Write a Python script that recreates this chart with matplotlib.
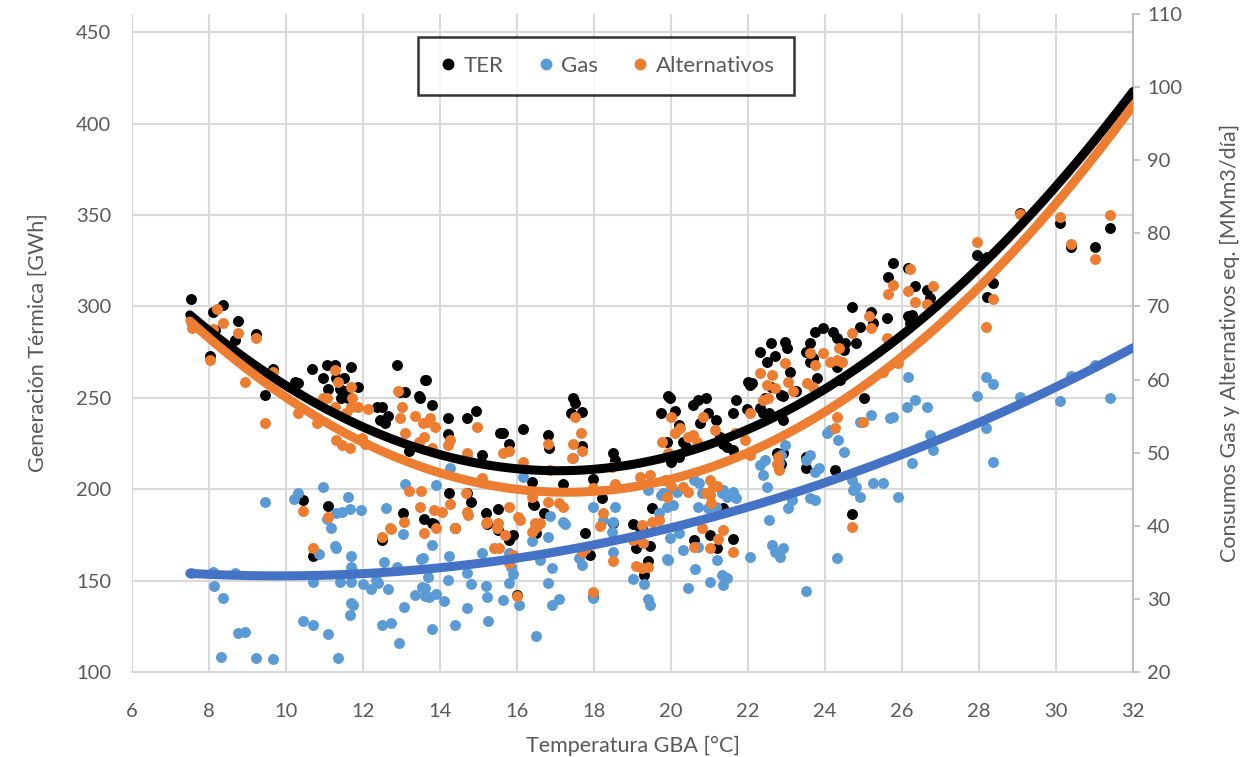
import numpy as np
import matplotlib
matplotlib.use("Agg")
import matplotlib.pyplot as plt
from matplotlib.lines import Line2D

plt.rcParams['font.family'] = ['Lato', 'DejaVu Sans']

# ---------------- data ----------------
ter_temp = [7.53, 7.55, 8.03, 8.10, 8.37, 8.15, 8.67, 8.75, 9.22, 9.45, 9.66, 10.23, 10.30, 10.68, 10.96,
            11.06, 11.27, 11.70, 11.30, 11.50, 11.10, 11.40, 11.55, 11.87, 11.42, 11.62, 10.44, 11.10, 10.70,
            12.36, 12.50, 12.65, 12.88, 13.10, 12.96, 13.48, 13.60, 12.44, 12.57, 13.20, 13.64, 13.45, 13.80,
            13.04, 12.50, 13.58, 13.80, 14.20, 14.70, 14.94, 14.20, 15.10, 15.56, 14.23, 14.70, 14.80, 15.20,
            15.50, 15.22, 15.64, 15.80, 16.16, 16.80, 16.83, 17.45, 17.50, 17.40, 17.70, 17.70, 18.50, 18.55,
            19.74, 19.92, 19.90, 16.40, 16.42, 17.20, 17.97, 18.20, 18.50, 19.00, 19.20, 19.50, 13.85, 14.40,
            15.50, 15.90, 15.80, 16.50, 17.77, 17.90, 19.25, 19.45, 19.10, 19.40, 19.30, 17.97, 16.00, 16.45,
            16.70, 20.10, 20.20, 20.30, 20.40, 20.57, 20.70, 20.90, 20.96, 21.17, 20.75, 21.27, 21.45, 21.70,
            21.60, 21.97, 22.10, 22.60, 22.90, 23.20, 22.40, 22.90, 22.90, 22.80, 23.50, 23.50, 19.97, 20.00,
            20.20, 21.35, 21.60, 22.00, 22.30, 22.50, 22.70, 22.60, 22.45, 22.30, 22.96, 23.00, 23.10, 23.25,
            22.85, 22.55, 22.05, 23.60, 23.50, 23.74, 23.95, 24.20, 24.30, 24.50, 23.62, 23.70, 23.80, 24.40,
            24.30, 24.52, 24.70, 25.20, 25.25, 25.60, 24.90, 24.80, 25.00, 26.15, 26.20, 24.25, 22.75, 22.85,
            20.60, 21.00, 21.35, 21.60, 21.20, 24.70, 25.77, 25.64, 26.15, 26.34, 26.65, 26.73, 26.26, 27.95,
            28.20, 28.36, 28.20, 29.06, 30.10, 30.40, 31.00, 31.40]
ter_gwh = [304, 291, 273, 297, 300.6, 287, 281.5, 292, 285, 251.5, 266, 258.5, 258, 266, 260.7,
           268, 268, 267, 261, 261, 255, 255, 254, 256, 250, 250, 194, 191, 163.4,
           245, 245, 240, 268, 253, 253, 250, 260, 238, 236, 221, 260, 251, 246,
           187, 172, 183.6, 181.5, 239, 239, 243, 230, 218.6, 230.7, 198, 198, 193, 187,
           189, 181, 230.7, 225, 233, 229.6, 222.5, 250, 247, 241.6, 242, 223.6, 219.7, 216,
           241.6, 251, 225.7, 204, 192, 203, 205.5, 195, 181.5, 181, 179, 190, 181, 179,
           177.6, 175, 172, 176, 176, 164, 179, 169, 168, 161, 153, 141, 142, 191.3,
           187, 243, 235, 226, 223, 246, 249, 250, 241.6, 237.8, 236, 228.5, 223, 249,
           241.6, 244, 258, 256, 251, 254, 241.6, 237.8, 220, 211.5, 211.5, 217.5, 250, 215,
           217.5, 225, 221.4, 258.6, 275, 269.5, 273, 280, 250, 244.3, 280.4, 277, 264, 254,
           251.4, 241.6, 257, 280, 275, 286, 288, 286, 282.6, 276, 269.5, 271.7, 260.7, 259.6,
           266.8, 280, 299.6, 297, 291, 293.5, 288.6, 280, 250, 295, 291, 210.4, 219.7, 214,
           172, 175, 189.7, 172.7, 167.8, 186.4, 323.6, 316, 320.9, 311, 308.9, 304.5, 295.2, 328,
           327, 312.7, 305, 351, 345.5, 332.4, 332.4, 342.8]

alt_temp = [7.55, 8.03, 8.20, 8.37, 8.10, 8.75, 9.22, 8.94, 9.45, 9.66, 10.96, 11.06, 11.27, 11.35, 11.70,
            11.72, 11.68, 11.88, 11.27, 11.55, 11.30, 11.45, 11.66, 10.80, 10.30, 12.13, 11.97, 12.05, 10.44,
            11.10, 10.70, 12.50, 12.73, 13.06, 13.20, 13.50, 13.48, 13.58, 12.90, 13.00, 12.96, 13.10, 13.35,
            13.67, 13.88, 13.75, 13.58, 13.80, 13.45, 14.96, 14.70, 14.20, 14.26, 13.55, 13.90, 13.85, 14.05,
            14.40, 14.26, 14.70, 14.73, 15.20, 15.40, 12.70, 15.64, 15.80, 16.16, 15.10, 16.80, 16.86, 17.50,
            17.66, 17.70, 17.45, 17.43, 18.47, 18.55, 19.20, 19.45, 19.77, 19.92, 19.90, 14.68, 15.22, 15.50,
            15.78, 16.03, 16.08, 16.47, 16.60, 16.80, 17.10, 17.20, 16.40, 18.23, 17.97, 19.25, 19.70, 15.48,
            15.70, 15.52, 15.90, 15.80, 16.00, 16.40, 16.52, 16.46, 17.70, 17.80, 17.97, 18.15, 18.50, 19.00,
            19.10, 19.25, 19.40, 19.27, 19.50, 20.00, 20.10, 20.23, 20.44, 20.57, 20.83, 21.13, 20.67, 21.66,
            21.92, 22.05, 22.30, 22.62, 22.50, 22.70, 22.40, 22.52, 22.96, 23.04, 23.17, 23.62, 23.95, 23.74,
            24.13, 24.30, 24.45, 24.37, 24.70, 25.15, 25.20, 23.54, 23.70, 24.32, 24.26, 24.99, 22.78, 22.76,
            22.80, 22.05, 21.00, 21.10, 20.92, 20.30, 20.44, 19.85, 21.02, 21.04, 21.20, 20.80, 21.35, 21.22,
            21.00, 21.60, 20.60, 24.70, 20.00, 25.64, 25.77, 26.20, 26.15, 26.34, 26.65, 26.80, 25.60, 25.90,
            25.50, 27.95, 28.36, 28.18, 29.06, 30.10, 30.40, 31.00, 31.40]
alt_mmm3 = [67.0, 62.65, 69.6, 67.75, 66.9, 66.35, 65.75, 59.6, 54.0, 61.0, 57.5, 57.5, 61.25, 59.6, 59.0,
            57.5, 56.25, 56.25, 56.25, 55.4, 51.75, 51.0, 50.6, 54.0, 55.4, 56.0, 52.0, 51.25, 42.0,
            41.25, 37.0, 38.5, 39.5, 40.5, 44.75, 44.75, 42.5, 39.0, 58.4, 56.25, 54.75, 52.75, 55.0,
            54.2, 53.5, 54.75, 52.1, 50.6, 51.4, 53.5, 50.0, 51.0, 51.75, 54.0, 39.7, 42.15, 41.9,
            39.7, 43.0, 41.9, 41.5, 40.4, 37.0, 39.7, 49.9, 50.2, 48.75, 46.5, 51.25, 47.6, 54.85,
            52.7, 50.2, 51.25, 49.25, 48.0, 45.75, 46.65, 46.9, 51.4, 49.9, 43.9, 44.5, 40.5, 40.4,
            42.5, 41.2, 40.75, 40.4, 40.4, 43.25, 43.1, 42.5, 43.9, 41.75, 45.15, 40.1, 40.75, 39.75,
            38.75, 37.0, 36.0, 34.9, 30.4, 39.1, 40.0, 39.7, 36.4, 36.95, 31.0, 40.0, 35.25, 38.0,
            34.5, 34.25, 34.35, 37.6, 40.5, 54.85, 52.7, 53.35, 52.1, 52.4, 54.85, 53.1, 51.4, 52.75,
            51.75, 55.4, 60.9, 60.6, 59.25, 58.8, 57.2, 57.5, 62.25, 59.65, 58.5, 63.6, 63.6, 62.0,
            62.4, 62.65, 62.4, 64.25, 66.3, 68.75, 67.0, 59.5, 59.0, 54.85, 53.35, 54.2, 49.4, 48.5,
            47.6, 49.65, 46.25, 45.25, 44.5, 45.25, 44.6, 46.25, 44.2, 43.1, 45.5, 39.75, 39.4, 38.2,
            36.95, 36.4, 37.1, 39.8, 45.4, 71.75, 72.9, 75.1, 72.1, 70.6, 70.4, 72.75, 65.65, 62.25,
            61.0, 78.75, 71.0, 67.15, 82.6, 82.2, 78.6, 76.45, 82.5]

gas_temp = [7.53, 8.10, 8.12, 8.37, 8.75, 8.94, 8.30, 8.67, 9.22, 9.66, 9.45, 10.20, 10.30, 10.96, 11.60,
            11.06, 11.17, 11.30, 11.45, 11.66, 11.95, 11.27, 11.30, 10.86, 11.70, 11.70, 11.72, 10.70, 11.40,
            11.68, 12.00, 12.20, 11.70, 11.73, 11.66, 10.44, 10.70, 11.10, 11.35, 12.60, 12.54, 12.35, 12.38,
            12.65, 12.88, 13.04, 12.50, 12.73, 12.94, 13.06, 13.35, 13.50, 13.52, 13.60, 13.10, 14.26, 14.70,
            13.90, 16.16, 17.45, 17.97, 18.55, 16.86, 17.20, 19.40, 19.70, 19.90, 18.23, 13.80, 14.23, 15.10,
            15.80, 13.56, 13.70, 13.60, 13.72, 13.90, 14.20, 14.70, 14.80, 15.20, 15.22, 15.64, 15.80, 15.90,
            15.84, 14.10, 14.70, 15.25, 14.40, 13.80, 16.05, 16.50, 16.60, 16.90, 16.80, 16.92, 17.10, 17.70,
            17.60, 17.25, 16.80, 16.40, 18.50, 17.97, 19.00, 19.30, 19.40, 19.45, 19.90, 18.47, 18.50, 26.15,
            26.13, 25.77, 25.70, 25.20, 24.90, 24.05, 24.13, 24.34, 24.50, 23.60, 23.50, 23.74, 23.85, 22.96,
            22.85, 22.80, 22.45, 22.30, 22.38, 22.50, 21.35, 21.32, 21.45, 20.60, 20.73, 20.80, 20.15, 20.00,
            19.80, 24.70, 24.80, 25.50, 23.05, 23.15, 23.62, 23.75, 22.55, 24.72, 24.90, 25.25, 25.90, 20.70,
            20.96, 21.17, 20.98, 21.62, 21.70, 20.05, 20.20, 19.97, 19.92, 20.30, 20.70, 21.20, 20.62, 21.00,
            21.33, 21.45, 21.35, 20.44, 22.05, 22.62, 22.70, 22.83, 22.90, 24.30, 23.50, 19.75, 26.34, 26.65,
            26.73, 26.80, 26.26, 27.95, 28.18, 28.36, 28.18, 28.36, 29.06, 30.10, 30.40, 31.00, 31.40]
gas_mmm3 = [33.5, 33.7, 31.8, 30.1, 25.3, 25.5, 22.0, 33.5, 21.9, 21.8, 43.3, 43.7, 44.5, 45.3, 44.0,
            40.9, 39.7, 41.7, 41.9, 42.3, 42.2, 37.2, 37.0, 36.1, 35.9, 34.4, 34.0, 32.3, 32.3,
            32.3, 32.0, 31.4, 29.4, 29.2, 27.8, 27.0, 26.4, 25.2, 21.9, 42.4, 35.0, 32.6, 32.2,
            31.4, 34.4, 38.9, 26.4, 26.7, 24.0, 28.9, 30.5, 35.5, 31.6, 30.4, 45.7, 47.9, 49.4,
            45.6, 46.7, 49.3, 42.6, 42.6, 41.3, 40.5, 44.9, 41.7, 42.6, 40.8, 37.4, 35.9, 36.3,
            36.3, 35.6, 33.0, 31.5, 30.3, 30.7, 32.6, 33.5, 32.0, 31.8, 30.3, 29.9, 32.2, 33.4,
            34.4, 29.7, 28.8, 27.0, 26.4, 25.9, 29.2, 24.9, 35.3, 34.2, 32.2, 29.2, 30.0, 34.6,
            35.6, 40.3, 38.5, 37.9, 36.4, 30.1, 32.7, 32.0, 30.0, 29.2, 35.5, 39.2, 40.5, 60.4,
            56.3, 54.9, 54.7, 55.2, 54.2, 52.7, 53.1, 51.7, 50.1, 49.7, 49.0, 47.4, 47.9, 51.0,
            49.7, 48.6, 49.0, 48.3, 47.0, 45.3, 44.9, 44.5, 43.9, 46.3, 45.9, 44.5, 44.6, 45.2,
            44.5, 46.3, 45.3, 45.9, 42.4, 43.5, 43.8, 43.5, 40.8, 44.9, 43.9, 45.9, 43.9, 42.6,
            42.4, 42.6, 44.5, 44.6, 43.8, 42.8, 39.0, 38.3, 35.3, 36.7, 37.1, 35.3, 34.1, 32.3,
            33.3, 32.9, 31.9, 31.5, 35.7, 37.4, 36.4, 35.7, 37.0, 35.6, 31.1, 44.2, 57.2, 56.3,
            52.4, 50.4, 48.6, 57.8, 60.4, 59.4, 53.4, 48.7, 57.6, 57.1, 60.5, 62.0, 57.5]

# trend lines (sample points of each fitted curve)
trend_temp = [7.5, 10, 12, 14, 16, 18, 20, 22, 24, 26, 28, 30, 32]
ter_trend = [293.5, 258, 234, 219.7, 212, 211.5, 220, 232, 251, 282, 325, 364, 419]
alt_trend = [66.9, 60.0, 50.75, 46.5, 45.0, 44.9, 46.4, 50.2, 54.6, 62.5, 74.0, 85.0, 96.5]
gas_trend = [33.2, 33.1, 33.8, 34.4, 35.7, 37.6, 39.5, 42.5, 45.6, 49.6, 54.2, 59.0, 64.5]

# ---------------- style ----------------
C_TER = '#000000'
C_GAS = '#5B9BD5'
C_ALT = '#ED7D31'
C_GAS_TR = '#4472C4'
TXT = '#595959'
GRID = '#d9d9d9'

fig = plt.figure(figsize=(12.47, 7.57), dpi=100)
ax = fig.add_axes([132 / 1247, 1 - 672 / 757, (1133 - 132) / 1247, (672 - 14) / 757])
ax2 = ax.twinx()

ax.set_xlim(6, 32)
ax.set_ylim(100, 460)
ax2.set_ylim(20, 110)
ax.set_xticks(np.arange(6, 33, 2))
ax.set_yticks(np.arange(100, 451, 50))
ax2.set_yticks(np.arange(20, 111, 10))

ax.grid(True, color=GRID, linewidth=1.5, zorder=0)
ax.set_axisbelow(True)

for s in ['top', 'left']:
    ax.spines[s].set_visible(False)
    ax2.spines[s].set_visible(False)
ax.spines['right'].set_visible(False)
ax2.spines['bottom'].set_visible(False)
ax.spines['bottom'].set_color(GRID)
ax.spines['bottom'].set_linewidth(1.5)
ax2.spines['right'].set_color('#bfbfbf')
ax2.spines['right'].set_linewidth(1.5)

ax.tick_params(axis='y', length=0, labelsize=14.5, labelcolor=TXT, pad=15)
ax.tick_params(axis='x', length=0, labelsize=14.5, labelcolor=TXT, pad=22)
ax2.tick_params(axis='y', length=5, width=1.2, color='#bfbfbf', labelsize=14.5, labelcolor=TXT, pad=5)

ms = 62
ax.scatter(ter_temp, ter_gwh, s=ms, color=C_TER, linewidths=0, zorder=3)
ax2.scatter(gas_temp, gas_mmm3, s=ms, color=C_GAS, linewidths=0, zorder=3)
ax2.scatter(alt_temp, alt_mmm3, s=ms, color=C_ALT, linewidths=0, zorder=4)

xs = np.linspace(7.5, 32, 300)
p_ter = np.polyfit(trend_temp, ter_trend, 2)
p_alt = np.polyfit(trend_temp, alt_trend, 2)
p_gas = np.polyfit(trend_temp, gas_trend, 2)
ax2.plot(xs, np.polyval(p_ter, xs), color=C_TER, lw=6.5, transform=ax.transData, zorder=6,
         solid_capstyle='round')
ax2.plot(xs, np.polyval(p_gas, xs), color=C_GAS_TR, lw=6.5, zorder=6, solid_capstyle='round')
ax2.plot(xs, np.polyval(p_alt, xs), color=C_ALT, lw=6.5, zorder=7, solid_capstyle='round')

ax.set_xlabel('Temperatura GBA [°C]', fontsize=15.5, color=TXT, labelpad=12)
ax.set_ylabel('Generación Térmica [GWh]', fontsize=15.5, color=TXT, labelpad=20)
ax2.set_ylabel('Consumos Gas y Alternativos eq. [MMm3/día]', fontsize=15.5, color=TXT, labelpad=27)

handles = [Line2D([], [], marker='o', ls='none', color=c, markersize=7.5) for c in (C_TER, C_GAS, C_ALT)]
leg = ax2.legend(handles, ['TER', 'Gas', 'Alternativos'], loc='upper center',
                 bbox_to_anchor=(0.4735, 0.982), ncol=3, frameon=True, fancybox=False,
                 edgecolor='black', fontsize=16, handletextpad=0.2, columnspacing=1.4,
                 borderpad=0.85, handlelength=1.0)
leg.get_frame().set_linewidth(1.8)
for t in leg.get_texts():
    t.set_color(TXT)
leg.set_zorder(10)

fig.savefig('out.png', dpi=100)
